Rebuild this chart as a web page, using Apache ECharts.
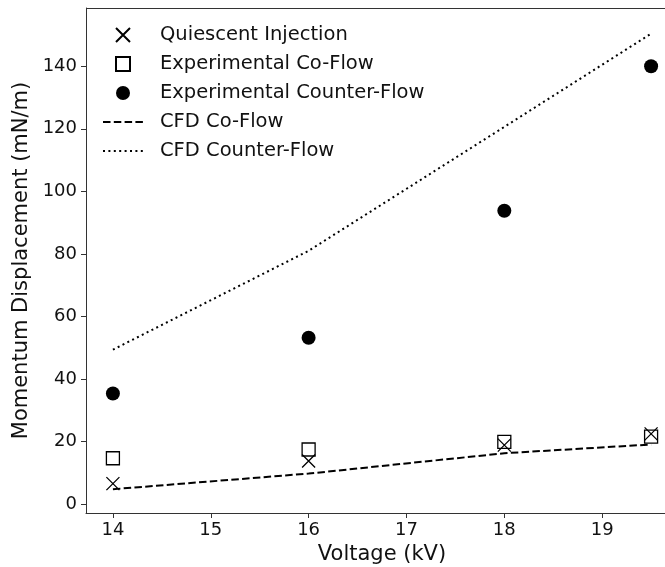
<!DOCTYPE html>
<html>
<head>
<meta charset="utf-8">
<script src="https://cdn.jsdelivr.net/npm/echarts@6/dist/echarts.min.js"></script>
<style>html,body{margin:0;padding:0;background:#fff;overflow:hidden}#c{width:682px;height:567px}</style>
</head>
<body>
<div id="c"></div>
<script>
const voltages = [14, 16, 18, 19.5];
const quiescent = [6.6, 13.8, 18.9, 22.5];
const expCoFlow = [14.7, 17.5, 19.9, 21.6];
const expCounterFlow = [35.4, 53.2, 93.8, 140];
const cfdCoFlow = [4.8, 9.8, 16.3, 19.1];
const cfdCounterFlow = [49.4, 81.0, 120.6, 150.4];
const xTicks = [14, 15, 16, 17, 18, 19];
const yTicks = [0, 20, 40, 60, 80, 100, 120, 140];
const yMin = -2.8, yMax = 158.6;

const pairs = arr => voltages.map((v, i) => [v, arr[i]]);
const font = 'DejaVu Sans';
const xPath = 'path://M0,0L10,10M10,0L0,10';
const sqPath = 'path://M0,0L10,0L10,10L0,10Z';
const hidden = {color: 'transparent', borderColor: 'transparent', opacity: 0};
const axisCol = '#333';
const chart = echarts.init(document.getElementById('c'));
chart.setOption({
  animation: false,
  backgroundColor: '#fff',
  grid: {left: 86, top: 8, width: 592, height: 505, show: false, outerBoundsMode: 'none'},
  legend: {
    orient: 'vertical', left: 97, top: 20, itemWidth: 40, itemHeight: 14, itemGap: 9,
    textStyle: {fontFamily: font, fontSize: 19.5, color: '#111', padding: [0, 0, 0, 12]},
    data: [
      {name: 'Quiescent Injection', icon: xPath},
      {name: 'Experimental Co-Flow', icon: sqPath},
      {name: 'Experimental Counter-Flow', icon: 'circle'},
      {name: 'CFD Co-Flow', itemStyle: hidden},
      {name: 'CFD Counter-Flow', itemStyle: hidden}
    ]
  },
  xAxis: {
    type: 'value', min: 13.725, max: 19.775,
    name: 'Voltage (kV)', nameLocation: 'middle', nameGap: 25,
    nameTextStyle: {fontFamily: font, fontSize: 21, color: '#111'},
    axisLine: {show: true, onZero: false, lineStyle: {color: axisCol, width: 1}},
    axisTick: {show: true, length: 5, inside: false, customValues: xTicks, lineStyle: {color: axisCol}},
    axisLabel: {customValues: xTicks, fontFamily: font, fontSize: 18, color: '#111', margin: 8},
    splitLine: {show: false}
  },
  yAxis: {
    type: 'value', min: yMin, max: yMax,
    name: 'Momentum Displacement (mN/m)', nameLocation: 'middle', nameGap: 48,
    nameTextStyle: {fontFamily: font, fontSize: 21, color: '#111'},
    axisLine: {show: true, onZero: false, lineStyle: {color: axisCol, width: 1}},
    axisTick: {show: true, length: 5, inside: false, customValues: yTicks, lineStyle: {color: axisCol}},
    axisLabel: {customValues: yTicks, fontFamily: font, fontSize: 18, color: '#111', margin: 9},
    splitLine: {show: false}
  },
  series: [
    {name: 'CFD Co-Flow', type: 'line', data: pairs(cfdCoFlow), symbol: 'none', z: 2,
     lineStyle: {color: '#000', width: 2, type: [7.5, 3.3]}, itemStyle: {color: '#000'},
     markLine: {silent: true, symbol: 'none', label: {show: false},
                lineStyle: {color: axisCol, width: 1, type: 'solid'},
                data: [{yAxis: yMax}]}},
    {name: 'CFD Counter-Flow', type: 'line', data: pairs(cfdCounterFlow), symbol: 'none', z: 2,
     lineStyle: {color: '#000', width: 2, type: [2, 3.4]}, itemStyle: {color: '#000'}},
    {name: 'Quiescent Injection', type: 'scatter', data: pairs(quiescent), z: 3,
     symbol: xPath, symbolSize: 13,
     itemStyle: {color: 'none', borderColor: '#000', borderWidth: 1.3, opacity: 1}},
    {name: 'Experimental Co-Flow', type: 'scatter', data: pairs(expCoFlow), z: 3,
     symbol: sqPath, symbolSize: 13,
     itemStyle: {color: 'none', borderColor: '#000', borderWidth: 1.3, opacity: 1}},
    {name: 'Experimental Counter-Flow', type: 'scatter', data: pairs(expCounterFlow), z: 3,
     symbol: 'circle', symbolSize: 14,
     itemStyle: {color: '#000', opacity: 1}}
  ]
});
</script>
</body>
</html>
